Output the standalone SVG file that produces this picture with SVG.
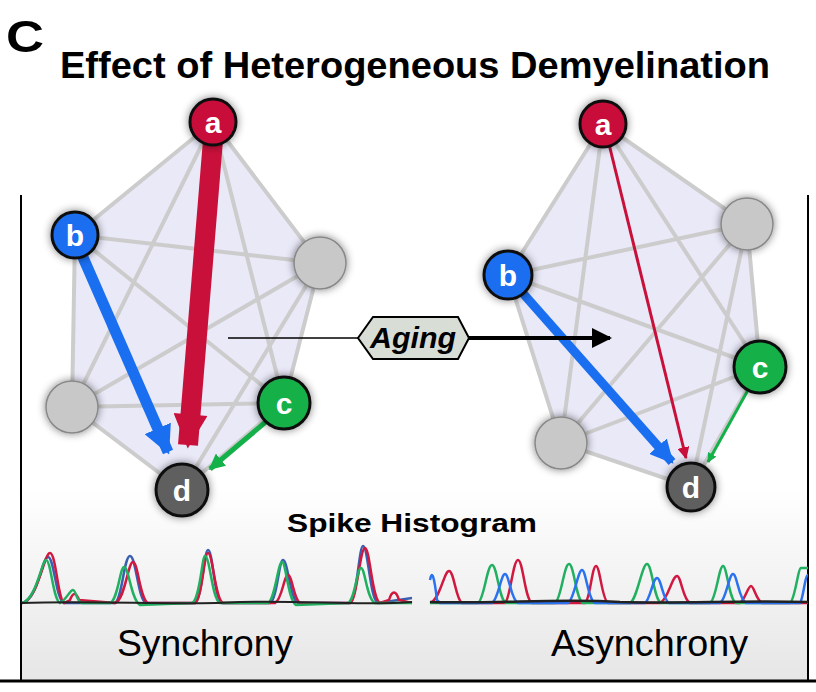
<svg xmlns="http://www.w3.org/2000/svg" width="816" height="692" viewBox="0 0 816 692">
<defs>
<linearGradient id="bg" x1="0" y1="0" x2="0" y2="1"><stop offset="0" stop-color="#fff"/><stop offset="0.6" stop-color="#fff"/><stop offset="1" stop-color="#e6e6e6"/></linearGradient>
<filter id="sh" x="-50%" y="-50%" width="200%" height="200%"><feGaussianBlur in="SourceAlpha" stdDeviation="4"/><feOffset dx="0" dy="0"/><feComponentTransfer><feFuncA type="linear" slope="0.5"/></feComponentTransfer><feMerge><feMergeNode/><feMergeNode in="SourceGraphic"/></feMerge></filter>
<marker id="ahr" viewBox="0 0 10 10" refX="9" refY="5" markerWidth="2" markerHeight="1.7" orient="auto" markerUnits="strokeWidth"><path d="M0,0L10,5L0,10z" fill="#c8103a"/></marker>
<marker id="ahb" viewBox="0 0 10 10" refX="9" refY="5" markerWidth="2.6" markerHeight="2.6" orient="auto" markerUnits="strokeWidth"><path d="M0,0L10,5L0,10z" fill="#1a6ef0"/></marker>
<marker id="ahg" viewBox="0 0 10 10" refX="9" refY="5" markerWidth="3.2" markerHeight="3.2" orient="auto" markerUnits="strokeWidth"><path d="M0,0L10,5L0,10z" fill="#14b04a"/></marker>
<marker id="ahr2" viewBox="0 0 10 10" refX="9" refY="5" markerWidth="4" markerHeight="4" orient="auto" markerUnits="strokeWidth"><path d="M0,0L10,5L0,10z" fill="#c8103a"/></marker>
<marker id="ahk" viewBox="0 0 10 10" refX="9" refY="5" markerWidth="5" markerHeight="5" orient="auto" markerUnits="strokeWidth"><path d="M0,0L10,5L0,10z" fill="#000"/></marker>
</defs>
<style>
.hull{fill:#e9e9f8;stroke:#ccc;stroke-width:4}
.e{stroke:#ccc;stroke-width:4;fill:none}
.n{stroke:#111;stroke-width:3;filter:url(#sh)}
.gn{fill:#c8c8c8;stroke:#888;stroke-width:1.5;filter:url(#sh)}
.lbl{font-family:"Liberation Sans",Arial,sans-serif;font-weight:bold;font-size:30px;fill:#fff;text-anchor:middle}
.h{fill:none;stroke-width:2.5}
.t{font-family:"Liberation Sans",Arial,sans-serif}
</style>
<rect x="21" y="195" width="787" height="486" fill="url(#bg)"/>
<path d="M21,195V681M808,195V681" stroke="#000" stroke-width="2"/>
<path d="M0,681H816" stroke="#000" stroke-width="3"/>
<text class="t" x="6" y="52" font-size="44" font-weight="bold" textLength="38" lengthAdjust="spacingAndGlyphs">C</text>
<text class="t" x="60" y="78" font-size="36" font-weight="bold" textLength="710" lengthAdjust="spacingAndGlyphs">Effect of Heterogeneous Demyelination</text>
<g id="left-net">
<polygon class="hull" points="213,122 320,263 284,403 182,490 72,407 75,235"/>
<path class="e" d="M213,122L284,403M213,122L72,407M75,235L320,263M75,235L284,403M320,263L72,407M320,263L182,490M72,407L284,403"/>
</g>
<g id="right-net">
<polygon class="hull" points="603,124 747,224 760,367 691,487 561,443 508,275"/>
<path class="e" d="M603,124L760,367M603,124L561,443M508,275L747,224M508,275L760,367M747,224L561,443M747,224L691,487M561,443L760,367"/>
</g>
<g id="connectors">
<line x1="213" y1="140" x2="188" y2="445" stroke="#c8103a" stroke-width="20" marker-end="url(#ahr)"/>
<line x1="82" y1="255" x2="168" y2="452" stroke="#1a6ef0" stroke-width="11" marker-end="url(#ahb)"/>
<line x1="268" y1="420" x2="210" y2="469" stroke="#14b04a" stroke-width="5" marker-end="url(#ahg)"/>
<line x1="608" y1="140" x2="686" y2="458" stroke="#c8103a" stroke-width="3" marker-end="url(#ahr2)"/>
<line x1="520" y1="290" x2="672" y2="462" stroke="#1a6ef0" stroke-width="9" marker-end="url(#ahb)"/>
<line x1="748" y1="390" x2="708" y2="462" stroke="#14b04a" stroke-width="3" marker-end="url(#ahg)"/>
<line x1="228" y1="338" x2="365" y2="338" stroke="#000" stroke-width="1.5"/>
<line x1="465" y1="338" x2="610" y2="338" stroke="#000" stroke-width="4" marker-end="url(#ahk)"/>
</g>
<g id="aging">
<polygon points="358,338 373,317 458,317 469,338 458,359 373,359" fill="#d8ddd6" stroke="#000" stroke-width="2"/>
<text class="t" x="413" y="348" font-size="29" font-weight="bold" font-style="italic" text-anchor="middle" textLength="86" lengthAdjust="spacingAndGlyphs">Aging</text>
</g>
<g id="node-a1"><circle class="n" cx="213" cy="122" r="23" fill="#c8103a"/><text class="lbl" x="213" y="133">a</text></g>
<g id="node-b1"><circle class="n" cx="75" cy="235" r="23" fill="#1a6ef0"/><text class="lbl" x="75" y="246">b</text></g>
<g id="node-g1"><circle class="gn" cx="320" cy="263" r="26"/></g>
<g id="node-g2"><circle class="gn" cx="72" cy="407" r="26"/></g>
<g id="node-c1"><circle class="n" cx="284" cy="403" r="26" fill="#14b04a"/><text class="lbl" x="284" y="414">c</text></g>
<g id="node-d1"><circle class="n" cx="182" cy="490" r="26" fill="#5e5e5e"/><text class="lbl" x="182" y="501">d</text></g>
<g id="node-a2"><circle class="n" cx="603" cy="124" r="23" fill="#c8103a"/><text class="lbl" x="603" y="135">a</text></g>
<g id="node-g3"><circle class="gn" cx="747" cy="224" r="26"/></g>
<g id="node-b2"><circle class="n" cx="508" cy="275" r="24" fill="#1a6ef0"/><text class="lbl" x="508" y="286">b</text></g>
<g id="node-c2"><circle class="n" cx="760" cy="367" r="26" fill="#14b04a"/><text class="lbl" x="760" y="378">c</text></g>
<g id="node-g4"><circle class="gn" cx="561" cy="443" r="26"/></g>
<g id="node-d2"><circle class="n" cx="691" cy="487" r="24" fill="#5e5e5e"/><text class="lbl" x="691" y="498">d</text></g>
<text class="t" x="287" y="532" font-size="26" font-weight="bold" textLength="250" lengthAdjust="spacingAndGlyphs">Spike Histogram</text>
<g id="hist-left">
<path class="h" stroke="#3a5fb0" d="M22,603 C38,600 42,557 48,557 C54,557 56,600 64,603 L115,603 C122,600 124,556 130,556 C136,556 138,600 146,603 L195,603 C202,600 204,550 208,550 C213,550 214,600 222,603 L270,603 C277,600 279,560 283,560 C288,560 290,600 298,603 L350,603 C357,600 359,546 363,546 C368,546 370,600 378,603 L412,598"/>
<path class="h" stroke="#d01840" d="M22,603 C38,600 44,553 50,553 C56,553 58,600 64,603 L70,600 C73,592 76,592 79,600 L115,603 C125,600 128,562 133,562 C138,562 140,600 148,603 L195,603 C202,600 204,553 208,553 C213,553 215,600 223,603 L275,603 C282,600 284,575 288,575 C292,575 294,600 300,603 L350,603 C357,600 360,548 365,548 C370,548 372,600 380,603 L389,600 C392,590 396,590 399,600 L412,603"/>
<path class="h" stroke="#20b060" d="M22,603 C36,600 42,560 46,560 C51,560 53,600 60,603 C66,600 70,590 73,590 C76,590 77,603 82,603 L110,603 C118,600 120,567 124,567 C129,567 131,600 140,605 L192,603 C200,600 202,556 205,556 C210,556 212,600 220,603 L268,603 C275,600 278,562 282,562 C286,562 288,600 296,605 L348,603 C355,600 357,568 361,568 C365,568 367,600 375,603 L412,603"/>
<path d="M22,603 C100,600 180,606 240,602 C300,600 360,606 412,602" fill="none" stroke="#222" stroke-width="2"/>
</g>
<g id="hist-right">
<path class="h" stroke="#d01840" d="M430,603 C440,600 444,571 449,571 C454,571 456,600 462,603 L505,603 C510,600 513,560 518,560 C523,560 525,600 532,603 L585,603 C590,600 592,566 596,566 C600,566 602,600 608,603 L660,603 C668,600 672,576 677,576 C681,576 683,600 690,603 L740,603 C745,600 748,586 751,586 C754,586 756,600 762,603 L808,603"/>
<path class="h" stroke="#20b060" d="M430,603 L478,603 C484,600 487,565 492,565 C497,565 499,600 506,603 L555,603 C561,600 564,564 569,564 C574,564 576,600 583,603 L630,603 C637,600 642,564 647,564 C652,564 654,600 661,603 L710,603 C716,600 719,566 723,566 C727,566 729,600 736,603 L790,603 C795,600 798,568 801,568 L808,568"/>
<path class="h" stroke="#2a72f0" d="M430,580 C432,570 434,575 437,600 L440,603 L492,603 C498,600 501,574 505,574 C509,574 511,600 518,603 L568,603 C574,600 578,570 582,570 C586,570 588,600 595,603 L645,603 C650,600 653,578 657,578 C661,578 663,600 669,603 L720,603 C726,600 729,574 733,574 C737,574 739,600 746,603 L800,603 C803,600 805,575 808,575"/>
<path d="M430,602 C500,604 560,598 620,602 C680,604 740,600 808,602" fill="none" stroke="#222" stroke-width="2.5"/>
</g>
<text class="t" x="117" y="656" font-size="36" textLength="176" lengthAdjust="spacingAndGlyphs">Synchrony</text>
<text class="t" x="551" y="656" font-size="36" textLength="197" lengthAdjust="spacingAndGlyphs">Asynchrony</text>
</svg>
